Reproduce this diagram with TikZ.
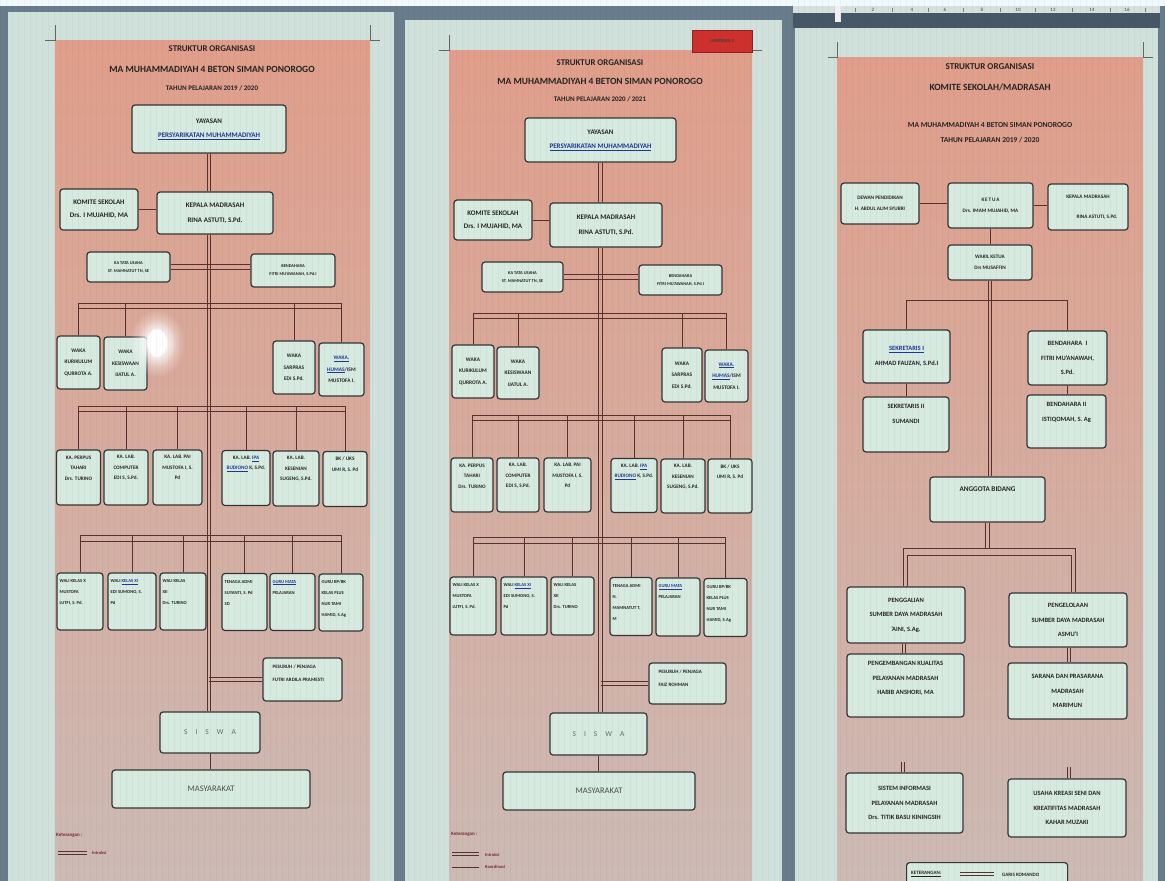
\documentclass[tikz,border=0pt]{standalone}
\usepackage{fontspec}
\setmainfont{Carlito}
\usetikzlibrary{fadings}
\tikzfading[name=glowfade, inner color=transparent!0, outer color=transparent!100]
\definecolor{bgc}{RGB}{104,124,140}
\definecolor{pagec}{RGB}{208,224,218}
\definecolor{salt}{RGB}{224,158,138}
\definecolor{salm}{RGB}{214,172,160}
\definecolor{salb}{RGB}{204,186,180}
\definecolor{boxf}{RGB}{214,234,224}
\definecolor{boxd}{RGB}{52,52,52}
\definecolor{lnc}{RGB}{88,48,46}
\definecolor{txtc}{RGB}{38,36,36}
\definecolor{ulb}{RGB}{30,55,150}
\definecolor{redl}{RGB}{205,48,45}
\definecolor{rulc}{RGB}{214,224,220}
\definecolor{darkb}{RGB}{70,88,102}
\definecolor{ketc}{RGB}{120,40,50}
\definecolor{siswac}{RGB}{95,110,108}
\definecolor{gridc}{RGB}{60,70,80}
\newcommand{\blueu}[1]{\textcolor{ulb}{\underline{#1}}}
\newcommand{\twov}[2]{\draw[ln] ([xshift=-1.7pt]#1) -- ([xshift=-1.7pt]#2);\draw[ln] ([xshift=1.7pt]#1) -- ([xshift=1.7pt]#2);}
\newcommand{\twoh}[2]{\draw[ln] ([yshift=2.2pt]#1) -- ([yshift=2.2pt]#2);\draw[ln] ([yshift=-2.2pt]#1) -- ([yshift=-2.2pt]#2);}
\newcommand{\busln}[4]{\draw[ln] (#1.north |- #3) -- (#2.north |- #3);\draw[ln] (#1.north |- #4) -- (#2.north |- #4);}
\tikzset{
  bx/.style={draw=boxd, fill=boxf, rounded corners=3pt, line width=1.2pt, inner sep=1pt, align=center, text=txtc},
  fA/.style={font=\fontsize{7}{14.5}\selectfont\bfseries},
  fS/.style={font=\fontsize{4.4}{8}\selectfont\bfseries},
  fW/.style={font=\fontsize{5.4}{11.5}\selectfont\bfseries},
  fT/.style={font=\fontsize{5.2}{11}\selectfont\bfseries},
  fB/.style={font=\fontsize{6.5}{14.5}\selectfont\bfseries},
  ln/.style={draw=lnc, line width=1pt},
  tl/.style={anchor=north, inner sep=0pt, align=center, text=txtc, font=\fontsize{5.2}{10.5}\selectfont\bfseries, yshift=-6pt},
  tlL/.style={anchor=north west, inner sep=0pt, align=left, text=txtc, font=\fontsize{4.6}{11}\selectfont\bfseries, xshift=3pt, yshift=-7pt},
  tlP/.style={anchor=north west, inner sep=0pt, align=left, text=txtc, font=\fontsize{5}{13}\selectfont\bfseries, xshift=10pt, yshift=-7pt},
  tlB/.style={anchor=north, inner sep=0pt, align=center, text=txtc, font=\fontsize{6.5}{14.5}\selectfont\bfseries, yshift=-8pt},
  ttA/.style={font=\fontsize{8.8}{10}\selectfont\bfseries, text=txtc, inner sep=0pt},
  ttB/.style={font=\fontsize{9.5}{11}\selectfont\bfseries, text=txtc, inner sep=0pt},
  ttC/.style={font=\fontsize{7}{8}\selectfont\bfseries, text=txtc, inner sep=0pt},
  sisw/.style={bx, font=\fontsize{7.5}{9}\selectfont, text=siswac},
  masy/.style={bx, font=\fontsize{8.5}{10}\selectfont, text=black!70},
  ket/.style={anchor=west, inner sep=0pt, text=ketc, font=\fontsize{5}{6}\selectfont\bfseries},
  crop/.style={draw=black!60, line width=0.6pt},
  salshade/.style={top color=salt, middle color=salm, bottom color=salb}
}
\begin{document}
\begin{tikzpicture}[x=1pt,y=-1pt]
\useasboundingbox (0,0) rectangle (1165,881);
\clip (0,0) rectangle (1165,881);
% ---------- screen background ----------
\fill[bgc] (0,0) rectangle (1165,881);
\fill[white!94!cyan] (0,0) rectangle (1165,6);
\fill[pagec] (8,12) rectangle (394,881);
\fill[pagec] (405,20) rectangle (782,881);
\fill[pagec] (795,28) rectangle (1158,881);
\fill[rulc] (793,6) rectangle (1160,13);
\fill[darkb] (793,13) rectangle (1160,28);
\fill[white!88!gray] (835,6) rectangle (841,22);
\foreach \n/\x in {2/873,4/912,6/945,8/982,10/1018,12/1053,14/1092,16/1127}
  \node[font=\fontsize{5}{5}\selectfont, text=black!75, inner sep=0pt] (rl\n) at (\x,9.5) {\n};
\foreach \x in {855,892,928,963,1000,1035,1072,1110,1145}
  \draw[black!50, line width=0.4pt] (\x,7.5) -- (\x,11.5);
% salmon panels
\shade[salshade] (55,40) rectangle (370,881);
\shade[salshade] (449,50) rectangle (752,881);
\shade[salshade] (837,57) rectangle (1143,881);
% crop marks
\draw[crop] (45,40) -- (55,40) -- (55,25);
\draw[crop] (370,25) -- (370,40) -- (380,40);
\draw[crop] (439,50) -- (449,50) -- (449,35);
\draw[crop] (752,35) -- (752,50) -- (762,50);
\draw[crop] (828,57) -- (837,57) -- (837,42);
\draw[crop] (1143,42) -- (1143,57) -- (1153,57);

% ================= PANEL 1 =================
\node[ttA] (p1t1) at (212,49) {STRUKTUR ORGANISASI};
\node[ttB] (p1t2) at (212,69) {MA MUHAMMADIYAH 4 BETON SIMAN PONOROGO};
\node[ttC] (p1t3) at (212,88) {TAHUN PELAJARAN 2019 / 2020};
\node[bx,fA,minimum width=154pt,minimum height=48pt] (yay1) at (209,129) {YAYASAN\\\blueu{PERSYARIKATAN MUHAMMADIYAH}};
\node[bx,fA,font=\fontsize{7}{13}\selectfont\bfseries,minimum width=78pt,minimum height=41pt] (kom1) at (99,209.5) {KOMITE SEKOLAH\\Drs. I MUJAHID, MA};
\node[bx,fA,minimum width=116pt,minimum height=42pt] (kep1) at (215,213) {KEPALA MADRASAH\\RINA ASTUTI, S.Pd.};
\node[bx,fS,minimum width=83pt,minimum height=30pt] (ktu1) at (128.5,267) {KA TATA USAHA\\ST. MAMNATUT TN, SE};
\node[bx,fS,minimum width=84pt,minimum height=33pt] (ben1) at (293,270.5) {BENDAHARA\\FITRI MU'AWANAH, S.Pd.I};
\node[bx,fW,minimum width=43pt,minimum height=53pt] (w1a) at (78.5,362.5) {WAKA\\KURIKULUM\\QURROTA A.};
\node[bx,fW,minimum width=43pt,minimum height=53pt] (w1b) at (125.5,363.5) {WAKA\\KESISWAAN\\IJATUL A.};
\node[bx,fW,minimum width=42pt,minimum height=53pt] (w1c) at (294,367.5) {WAKA\\SARPRAS\\EDI S.Pd.};
\node[bx,fW,minimum width=45pt,minimum height=53pt] (w1d) at (341.5,369.5) {\blueu{WAKA.}\\\blueu{HUMAS}/ISM\\MUSTOFA I.};
\node[bx,minimum width=44pt,minimum height=55pt,label={[tl]north:{KA. PERPUS\\TAHARI\\Drs. TURINO}}] (r1a) at (78.5,477.5) {};
\node[bx,minimum width=44pt,minimum height=55pt,label={[tl]north:{KA. LAB.\\COMPUTER\\EDI S, S.Pd.}}] (r1b) at (126,477.5) {};
\node[bx,minimum width=49pt,minimum height=55pt,label={[tl]north:{KA. LAB. PAI\\MUSTOFA I, S.\\Pd}}] (r1c) at (177.5,477.5) {};
\node[bx,minimum width=48pt,minimum height=55pt,label={[tl]north:{KA. LAB. \blueu{IPA}\\\blueu{BUDIONO} K, S.Pd.}}] (r1d) at (246,478) {};
\node[bx,minimum width=46pt,minimum height=55pt,label={[tl]north:{KA. LAB.\\KESENIAN\\SUGENG, S.Pd.}}] (r1e) at (296,478.5) {};
\node[bx,minimum width=44pt,minimum height=55pt,label={[tl]north:{BK / UKS\\UMI R, S. Pd}}] (r1f) at (345,479) {};
\node[bx,minimum width=46pt,minimum height=57pt,label={[tlL]north west:{WALI KELAS X\\MUSTOFA\\LUTFI, S. Pd.}}] (s1a) at (80,601.5) {};
\node[bx,minimum width=48pt,minimum height=57pt,label={[tlL]north west:{WALI \blueu{KELAS XI}\\EDI SUMONO, S.\\Pd}}] (s1b) at (132,601.5) {};
\node[bx,minimum width=46pt,minimum height=57pt,label={[tlL]north west:{WALI KELAS\\XII\\Drs. TURINO}}] (s1c) at (183,601.5) {};
\node[bx,minimum width=45pt,minimum height=57pt,label={[tlL]north west:{TENAGA ADMI\\SUYANTI, S. Pd\\SD}}] (s1d) at (244.5,602) {};
\node[bx,minimum width=45pt,minimum height=57pt,label={[tlL]north west:{\blueu{GURU MATA}\\PELAJARAN}}] (s1e) at (292.5,602) {};
\node[bx,minimum width=44pt,minimum height=57pt,label={[tlL]north west:{GURU BP/BK\\KELAS PLUS\\NUR TAMI\\HAMID, S.Ag}}] (s1f) at (341,602.5) {};
\node[bx,minimum width=79pt,minimum height=43pt,label={[tlP]north west:{PESURUH / PENJAGA\\FUTRI ARDILA PRAMESTI}}] (pes1) at (302.5,679.5) {};
\node[sisw,minimum width=100pt,minimum height=41pt] (sis1) at (210,732.5) {S\hspace{8pt}I\hspace{8pt}S\hspace{8pt}W\hspace{8pt}A};
\node[masy,minimum width=198pt,minimum height=38pt] (mas1) at (211,789) {MASYARAKAT};
% connectors panel 1
\coordinate (p1y1) at (0,303); \coordinate (p1y1b) at (0,308);
\coordinate (p1y2) at (0,406); \coordinate (p1y2b) at (0,411);
\coordinate (p1y3) at (0,535); \coordinate (p1y3b) at (0,541);
\coordinate (m1a) at (yay1.south |- kep1.north);
\coordinate (m1b) at (yay1.south |- kep1.south);
\coordinate (m1c) at (yay1.south |- sis1.north);
\twov{yay1.south}{m1a}
\twov{m1b}{m1c}
\draw[ln] (kom1.east) -- (kom1.east -| kep1.west);
\coordinate (k1) at (ktu1.east -| ben1.west);
\twoh{ktu1.east}{k1}
\busln{w1a}{w1d}{p1y1}{p1y1b}
\foreach \n in {w1a,w1b,w1c,w1d} \draw[ln] (\n.north) -- (\n.north |- p1y1);
\busln{r1a}{r1f}{p1y2}{p1y2b}
\foreach \n in {r1a,r1b,r1c,r1d,r1e,r1f} \draw[ln] (\n.north) -- (\n.north |- p1y2);
\busln{s1a}{s1f}{p1y3}{p1y3b}
\foreach \n in {s1a,s1b,s1c,s1d,s1e,s1f} \draw[ln] (\n.north) -- (\n.north |- p1y3);
\coordinate (q1) at (yay1.south |- pes1.west);
\twoh{q1}{pes1.west}
\draw[ln] (sis1.south) -- (sis1.south |- mas1.north);
% legend panel 1
\node[ket] (kt1) at (56,835) {Keterangan :};
\coordinate (lg1a) at (58,852.5); \coordinate (lg1b) at (87,852.5);
\draw[ln, line width=0.8pt] ([yshift=1.5pt]lg1a) -- ([yshift=1.5pt]lg1b);
\draw[ln, line width=0.8pt] ([yshift=-1.5pt]lg1a) -- ([yshift=-1.5pt]lg1b);
\node[ket, font=\fontsize{4.5}{5}\selectfont\bfseries] (kt1b) at (92,853) {Intruksi};
% glare
\fill[white, path fading=glowfade] (157,343) ellipse [x radius=28, y radius=34];
\fill[white, path fading=glowfade] (157,343) ellipse [x radius=19, y radius=24];
\fill[white, opacity=0.9] (157,343) ellipse [x radius=10, y radius=14];

% ================= PANEL 2 =================
\node[draw=redl!70!black, fill=redl, minimum width=60pt, minimum height=22pt, inner sep=0pt, font=\fontsize{4.5}{5}\selectfont\bfseries, text=black!75] (lamp) at (722,41) {LAMPIRAN 3};
\node[ttA] (p2t1) at (600,63) {STRUKTUR ORGANISASI};
\node[ttB] (p2t2) at (600,81) {MA MUHAMMADIYAH 4 BETON SIMAN PONOROGO};
\node[ttC] (p2t3) at (600,99) {TAHUN PELAJARAN 2020 / 2021};
\node[bx,fA,minimum width=151pt,minimum height=44pt] (yay2) at (600.5,140) {YAYASAN\\\blueu{PERSYARIKATAN MUHAMMADIYAH}};
\node[bx,fA,font=\fontsize{7}{13}\selectfont\bfseries,minimum width=78pt,minimum height=40pt] (kom2) at (493,220) {KOMITE SEKOLAH\\Drs. I MUJAHID, MA};
\node[bx,fA,minimum width=112pt,minimum height=44pt] (kep2) at (606,225) {KEPALA MADRASAH\\RINA ASTUTI, S.Pd.};
\node[bx,fS,minimum width=81pt,minimum height=30pt] (ktu2) at (522.5,277) {KA TATA USAHA\\ST. MAMNATUT TN, SE};
\node[bx,fS,minimum width=83pt,minimum height=30pt] (ben2) at (680.5,280) {BENDAHARA\\FITRI MU'AWANAH, S.Pd.I};
\node[bx,fW,minimum width=42pt,minimum height=53pt] (w2a) at (473,371.5) {WAKA\\KURIKULUM\\QURROTA A.};
\node[bx,fW,minimum width=42pt,minimum height=52pt] (w2b) at (518,373) {WAKA\\KESISWAAN\\IJATUL A.};
\node[bx,fW,minimum width=40pt,minimum height=54pt] (w2c) at (682,375) {WAKA\\SARPRAS\\EDI S.Pd.};
\node[bx,fW,minimum width=43pt,minimum height=52pt] (w2d) at (726.5,376) {\blueu{WAKA.}\\\blueu{HUMAS}/ISM\\MUSTOFA I.};
\node[bx,minimum width=42pt,minimum height=54pt,label={[tl]north:{KA. PERPUS\\TAHARI\\Drs. TURINO}}] (r2a) at (472,485) {};
\node[bx,minimum width=42pt,minimum height=54pt,label={[tl]north:{KA. LAB.\\COMPUTER\\EDI S, S.Pd.}}] (r2b) at (518,485) {};
\node[bx,minimum width=47pt,minimum height=54pt,label={[tl]north:{KA. LAB. PAI\\MUSTOFA I, S.\\Pd}}] (r2c) at (567.5,485) {};
\node[bx,minimum width=46pt,minimum height=54pt,label={[tl]north:{KA. LAB. \blueu{IPA}\\\blueu{BUDIONO} K, S.Pd.}}] (r2d) at (634,485.5) {};
\node[bx,minimum width=44pt,minimum height=54pt,label={[tl]north:{KA. LAB.\\KESENIAN\\SUGENG, S.Pd.}}] (r2e) at (683,486) {};
\node[bx,minimum width=44pt,minimum height=54pt,label={[tl]north:{BK / UKS\\UMI R, S. Pd}}] (r2f) at (730,486) {};
\node[bx,minimum width=46pt,minimum height=58pt,label={[tlL]north west:{WALI KELAS X\\MUSTOFA\\LUTFI, S. Pd.}}] (s2a) at (473,606) {};
\node[bx,minimum width=46pt,minimum height=58pt,label={[tlL]north west:{WALI \blueu{KELAS XI}\\EDI SUMONO, S.\\Pd}}] (s2b) at (524,606) {};
\node[bx,minimum width=43pt,minimum height=58pt,label={[tlL]north west:{WALI KELAS\\XII\\Drs. TURINO}}] (s2c) at (572.5,606) {};
\node[bx,minimum width=42pt,minimum height=58pt,label={[tlL]north west:{TENAGA ADMI\\N.\\MAMNATUT T,\\M}}] (s2d) at (631,606.5) {};
\node[bx,minimum width=44pt,minimum height=58pt,label={[tlL]north west:{\blueu{GURU MATA}\\PELAJARAN}}] (s2e) at (678,607) {};
\node[bx,minimum width=43pt,minimum height=58pt,label={[tlL]north west:{GURU BP/BK\\KELAS PLUS\\NUR TAMI\\HAMID, S.Ag}}] (s2f) at (725.5,607.5) {};
\node[bx,minimum width=77pt,minimum height=41pt,label={[tlP]north west:{PESURUH / PENJAGA\\FAIZ ROHMAN}}] (pes2) at (687.5,683.5) {};
\node[sisw,minimum width=97pt,minimum height=42pt] (sis2) at (598.5,734) {S\hspace{8pt}I\hspace{8pt}S\hspace{8pt}W\hspace{8pt}A};
\node[masy,minimum width=192pt,minimum height=38pt] (mas2) at (599,791) {MASYARAKAT};
% connectors panel 2
\coordinate (p2y1) at (0,313); \coordinate (p2y1b) at (0,318);
\coordinate (p2y2) at (0,415); \coordinate (p2y2b) at (0,420);
\coordinate (p2y3) at (0,537); \coordinate (p2y3b) at (0,543);
\coordinate (m2a) at (yay2.south |- kep2.north);
\coordinate (m2b) at (yay2.south |- kep2.south);
\coordinate (m2c) at (yay2.south |- sis2.north);
\twov{yay2.south}{m2a}
\twov{m2b}{m2c}
\draw[ln] (kom2.east) -- (kom2.east -| kep2.west);
\coordinate (k2) at (ktu2.east -| ben2.west);
\twoh{ktu2.east}{k2}
\busln{w2a}{w2d}{p2y1}{p2y1b}
\foreach \n in {w2a,w2b,w2c,w2d} \draw[ln] (\n.north) -- (\n.north |- p2y1);
\busln{r2a}{r2f}{p2y2}{p2y2b}
\foreach \n in {r2a,r2b,r2c,r2d,r2e,r2f} \draw[ln] (\n.north) -- (\n.north |- p2y2);
\busln{s2a}{s2f}{p2y3}{p2y3b}
\foreach \n in {s2a,s2b,s2c,s2d,s2e,s2f} \draw[ln] (\n.north) -- (\n.north |- p2y3);
\coordinate (q2) at (yay2.south |- pes2.west);
\twoh{q2}{pes2.west}
\draw[ln] (sis2.south) -- (sis2.south |- mas2.north);
% legend panel 2
\node[ket] (kt2) at (451,834) {Keterangan :};
\coordinate (lg2a) at (452,854); \coordinate (lg2b) at (479,854);
\draw[ln, line width=0.8pt] ([yshift=1.5pt]lg2a) -- ([yshift=1.5pt]lg2b);
\draw[ln, line width=0.8pt] ([yshift=-1.5pt]lg2a) -- ([yshift=-1.5pt]lg2b);
\node[ket, font=\fontsize{4.5}{5}\selectfont\bfseries] (kt2b) at (485,855) {Intruksi};
\coordinate (lg2c) at (452,867); \coordinate (lg2d) at (479,867);
\draw[ln, line width=0.8pt] (lg2c) -- (lg2d);
\node[ket, font=\fontsize{4.5}{5}\selectfont\bfseries] (kt2c) at (485,867) {Koordinasi};

% ================= PANEL 3 =================
\node[ttA, font=\fontsize{9}{10}\selectfont\bfseries] (p3t1) at (990,67) {STRUKTUR ORGANISASI};
\node[ttB] (p3t2) at (990,87) {KOMITE SEKOLAH/MADRASAH};
\node[ttC, font=\fontsize{7.6}{8}\selectfont\bfseries] (p3t3) at (990,125) {MA MUHAMMADIYAH 4 BETON SIMAN PONOROGO};
\node[ttC, font=\fontsize{7.5}{8}\selectfont\bfseries] (p3t4) at (990,140) {TAHUN PELAJARAN 2019 / 2020};
\node[bx,fT,minimum width=78pt,minimum height=41pt] (dew3) at (880,203.5) {DEWAN PENDIDIKAN\\H. ABDUL ALIM SYUBRI};
\node[bx,fT,minimum width=85pt,minimum height=45pt] (ket3) at (990.5,205.5) {K\,E\,T\,U\,A\\Drs. IMAM MUJAHID, MA};
\node[bx,fT,font=\fontsize{5.2}{20}\selectfont\bfseries,minimum width=80pt,minimum height=46pt] (kmd3) at (1088,207) {KEPALA MADRASAH\\\hspace*{18pt}RINA ASTUTI, S.Pd.};
\node[bx,fT,minimum width=84pt,minimum height=35pt] (wak3) at (990,262.5) {WAKIL KETUA\\Drs MUSAFFIN};
\node[bx,fB,minimum width=87pt,minimum height=53pt] (sk1) at (906.5,356.5) {\blueu{SEKRETARIS I}\\AHMAD FAUZAN, S.Pd.I};
\node[bx,fB,minimum width=79pt,minimum height=54pt] (bd1) at (1067.5,358) {BENDAHARA\enspace I\\FITRI MU'ANAWAH,\\S.Pd.};
\node[bx,minimum width=86pt,minimum height=55pt,label={[tlB]north:{SEKRETARIS II\\SUMANDI}}] (sk2) at (906,424.5) {};
\node[bx,minimum width=79pt,minimum height=53pt,label={[tlB]north:{BENDAHARA II\\ISTIQOMAH, S. Ag}}] (bd2) at (1066.5,421.5) {};
\node[bx,minimum width=115pt,minimum height=45pt,label={[tlB,font=\fontsize{7.2}{9}\selectfont\bfseries,yshift=-2pt]north:{ANGGOTA BIDANG}}] (ang3) at (987.5,499.5) {};
\node[bx,fB,minimum width=118pt,minimum height=56pt] (pg3) at (906,615) {PENGGALIAN\\SUMBER DAYA MADRASAH\\'AINI, S.Ag.};
\node[bx,fB,minimum width=118pt,minimum height=54pt] (pl3) at (1068,620) {PENGELOLAAN\\SUMBER DAYA MADRASAH\\ASMU'I};
\node[bx,minimum width=117pt,minimum height=63pt,label={[tlB]north:{PENGEMBANGAN KUALITAS\\PELAYANAN MADRASAH\\HABIB ANSHORI, MA}}] (pk3) at (905.5,685.5) {};
\node[bx,fB,minimum width=119pt,minimum height=56pt] (sp3) at (1067.5,691) {SARANA DAN PRASARANA\\MADRASAH\\MARIMUN};
\node[bx,fB,minimum width=117pt,minimum height=60pt] (si3) at (904.5,803) {SISTEM INFORMASI\\PELAYANAN MADRASAH\\Drs. TITIK BASU KININGSIH};
\node[bx,fB,minimum width=118pt,minimum height=58pt] (us3) at (1067,808) {USAHA KREASI SENI DAN\\KREATIFITAS MADRASAH\\KAHAR MUZAKI};
\node[bx,minimum width=161pt,minimum height=34pt,anchor=north west] (kb3) at (906,862) {};
\node[anchor=west, inner sep=0pt, text=txtc, font=\fontsize{5}{6}\selectfont\bfseries] (kt3) at (911,874) {\underline{KETERANGAN:}};
\coordinate (lg3a) at (960,874); \coordinate (lg3b) at (994,874);
\draw[ln, line width=0.8pt] ([yshift=1.5pt]lg3a) -- ([yshift=1.5pt]lg3b);
\draw[ln, line width=0.8pt] ([yshift=-1.5pt]lg3a) -- ([yshift=-1.5pt]lg3b);
\node[anchor=west, inner sep=0pt, text=txtc, font=\fontsize{5}{6}\selectfont\bfseries] (kt3b) at (1002,875) {GARIS KOMANDO};
% connectors panel 3
\draw[ln] (dew3.east) -- (dew3.east -| ket3.west);
\draw[ln] (ket3.east) -- (ket3.east -| kmd3.west);
\draw[ln] (ket3.south) -- (ket3.south |- wak3.north);
\coordinate (m3b) at (wak3.south |- ang3.north);
\twov{wak3.south}{m3b}
\coordinate (p3y1) at (0,300);
\draw[ln] (sk1.north |- p3y1) -- (bd1.north |- p3y1);
\draw[ln] (sk1.north) -- (sk1.north |- p3y1);
\draw[ln] (bd1.north) -- (bd1.north |- p3y1);
\draw[ln] (sk1.south) -- (sk1.south |- sk2.north);
\draw[ln] (bd1.south) -- (bd1.south |- bd2.north);
\coordinate (c3L) at (903,548); \coordinate (c3R) at (1075,548);
\coordinate (c3l) at (907,555); \coordinate (c3r) at (1071,555);
\coordinate (m3c) at (ang3.south |- c3L);
\twov{ang3.south}{m3c}
\draw[ln] (c3L |- pg3.north) -- (c3L) -- (c3R) -- (c3R |- pl3.north);
\draw[ln] (c3l |- pg3.north) -- (c3l) -- (c3r) -- (c3r |- pl3.north);
\coordinate (d3x) at (904,0); \coordinate (d3y) at (1069,0);
\coordinate (d3a) at (pg3.south -| d3x); \coordinate (d3b) at (pk3.north -| d3x);
\twov{d3a}{d3b}
\coordinate (d3c) at (pl3.south -| d3y); \coordinate (d3d) at (sp3.north -| d3y);
\twov{d3c}{d3d}
\coordinate (e3t) at (903,762); \coordinate (e3b) at (e3t |- si3.north);
\twov{e3t}{e3b}
\coordinate (f3t) at (1069,767); \coordinate (f3b) at (f3t |- us3.north);
\twov{f3t}{f3b}

% screen texture
\draw[gridc, line width=0.3pt, opacity=0.045, step=6] (0,0) grid (1165,881);
\end{tikzpicture}
\end{document}
